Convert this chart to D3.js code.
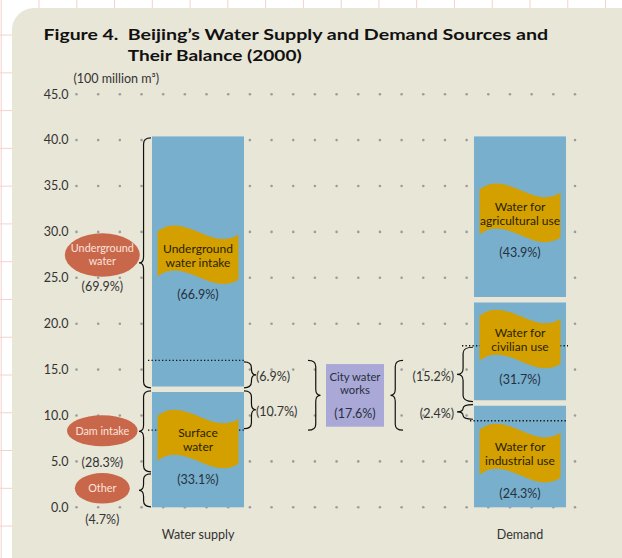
<!DOCTYPE html>
<html><head><meta charset="utf-8">
<script src="https://cdn.jsdelivr.net/npm/d3@7"></script>
<style>
html,body{margin:0;padding:0;background:#fff;}
svg{display:block;}
text{font-family:Lato,"Open Sans",sans-serif;}
</style></head>
<body>
<svg id="chart" width="622" height="558"></svg>
<script>
// ---------- data ----------
const categories = ["Water supply", "City water works", "Demand"];
const yTicks = [0, 5, 10, 15, 20, 25, 30, 35, 40, 45];
const unitLabel = "(100 million m³)";

// supply bar segments (bottom to top), 100 million m3
const supplyNames = [["Surface", "water"], ["Underground", "water intake"]];
const supplyValues = [12.85, 27.55];
const supplyPct = ["(33.1%)", "(66.9%)"];

// demand bar segments (bottom to top)
const demandNames = [["Water for", "industrial use"], ["Water for", "civilian use"], ["Water for", "agricultural use"]];
const demandValues = [11.35, 11.25, 17.8];
const demandPct = ["(24.3%)", "(31.7%)", "(43.9%)"];

// sources braces (bottom to top)
const sourceNames = [["Other"], ["Dam intake"], ["Underground", "water"]];
const sourceValues = [3.7, 9.15, 27.55];
const sourcePct = ["(4.7%)", "(28.3%)", "(69.9%)"];

// city water works transfers [low, high]
const toWorksRanges = [[12.85, 16.0], [8.4, 12.85]];
const toWorksPct = ["(6.9%)", "(10.7%)"];
const fromWorksRanges = [[11.35, 17.6], [9.43, 11.35]];
const fromWorksPct = ["(15.2%)", "(2.4%)"];
const worksPct = "(17.6%)";

// ---------- layout ----------
const W = 622, H = 558;
const svg = d3.select("#chart");
const y = d3.scaleLinear().domain([0, 45]).range([507.3, 94.2]);
const x = d3.scaleBand().domain(categories).range([152, 566]).paddingInner(0.4286).paddingOuter(0);
const bw = x.bandwidth();
const gridCols = d3.range(24);
const gx = d3.scaleLinear().domain([0, 23]).range([76.5, 575]);

const colors = {panel: "#E8E6D7", bar: "#78AFCC", flag: "#D4A000", oval: "#C9674B",
  ovalText: "#FBE3DA", works: "#AAA8D6", text: "#333333", pct: "#26303F", flagText: "#2A2200"};

// graph paper background
const bg = svg.append("g");
bg.append("rect").attr("width", W).attr("height", H).attr("fill", "#fff");
d3.range(-1, 17).forEach(k => {
  bg.append("line").attr("x1", 39 + 37.77 * k).attr("x2", 39 + 37.77 * k).attr("y1", 0).attr("y2", H)
    .attr("stroke", "#F3D2CB").attr("stroke-width", 1);
  bg.append("line").attr("y1", 488.3 - 37.77 * k).attr("y2", 488.3 - 37.77 * k).attr("x1", 0).attr("x2", W)
    .attr("stroke", "#F3D2CB").attr("stroke-width", 1);
});
svg.append("rect").attr("x", 12).attr("y", 8).attr("width", 630).attr("height", 572)
  .attr("rx", 22).attr("fill", colors.panel);

// title
svg.append("text").attr("x", 43.5).attr("y", 39.5).attr("font-size", 15.5).attr("font-weight", 700).attr("fill", "#111")
  .attr("textLength", 75).attr("lengthAdjust", "spacingAndGlyphs").text("Figure 4.");
svg.append("text").attr("x", 127.7).attr("y", 39.5).attr("font-size", 15.5).attr("font-weight", 700).attr("fill", "#111")
  .attr("textLength", 420.5).attr("lengthAdjust", "spacingAndGlyphs")
  .text("Beijing’s Water Supply and Demand Sources and");
svg.append("text").attr("x", 127.7).attr("y", 61).attr("font-size", 15.5).attr("font-weight", 700).attr("fill", "#111")
  .attr("textLength", 174).attr("lengthAdjust", "spacingAndGlyphs")
  .text("Their Balance (2000)");

// unit label
svg.append("text").attr("x", 73.5).attr("y", 83).attr("font-size", 12.5).attr("fill", colors.text).text(unitLabel);

// dotted grid
const dots = svg.append("g");
yTicks.forEach(v => gridCols.forEach(c => {
  dots.append("circle").attr("cx", gx(c)).attr("cy", y(v)).attr("r", 1.3).attr("fill", "#9C9C9C");
}));
// tick labels
svg.append("g").selectAll("text").data(yTicks).join("text")
  .attr("x", 68.5).attr("y", d => y(d)).attr("dy", "0.35em").attr("text-anchor", "end")
  .attr("font-size", 12.5).attr("fill", colors.text).text(d => d.toFixed(1));

// helpers
function stackOf(values) {
  const ends = d3.cumsum(values);
  return values.map((v, i) => ({lo: ends[i] - v, hi: ends[i], i}));
}
function flagPath(cx, cy) {
  const fw = 81, fh = 45, a = 21, d = 3;
  const x0 = cx - fw / 2, y0 = cy - fh / 2 - 1.5;
  return `M${x0},${y0} C${x0 + fw / 3},${y0 - a} ${x0 + 2 * fw / 3},${y0 + a} ${x0 + fw},${y0 + d}` +
    ` L${x0 + fw},${y0 + d + fh} C${x0 + 2 * fw / 3},${y0 + a + fh} ${x0 + fw / 3},${y0 - a + fh} ${x0},${y0 + fh} Z`;
}
function bracePath(xBase, xTip, yTop, yBot) {
  const xm = xBase + (xTip - xBase) * 0.62;
  const yt = (yTop + yBot) / 2;
  const r = Math.min(6, (yBot - yTop) / 4);
  return `M${xBase},${yTop} Q${xm},${yTop} ${xm},${yTop + r} L${xm},${yt - r} Q${xm},${yt} ${xTip},${yt}` +
    ` Q${xm},${yt} ${xm},${yt + r} L${xm},${yBot - r} Q${xm},${yBot} ${xBase},${yBot}`;
}
function drawBrace(xBase, xTip, vLo, vHi, inset) {
  const ins = inset == null ? 1.5 : inset;
  svg.append("path").attr("d", bracePath(xBase, xTip, y(vHi) + ins, y(vLo) - ins))
    .attr("fill", "none").attr("stroke", "#111").attr("stroke-width", 1.2);
}
function dotted(x1, x2, v) {
  svg.append("line").attr("x1", x1).attr("x2", x2).attr("y1", y(v)).attr("y2", y(v))
    .attr("stroke", "#111").attr("stroke-width", 1.3).attr("stroke-dasharray", "1.3,2.2");
}
function lines(g, arr, cx, cy, size, color, gap) {
  const n = arr.length;
  arr.forEach((s, k) => {
    g.append("text").attr("x", cx).attr("y", cy + (k - (n - 1) / 2) * gap).attr("dy", "0.35em")
      .attr("text-anchor", "middle").attr("font-size", size).attr("fill", color).text(s);
  });
}

// bars (rectangles)
function drawBarRects(cat, values) {
  const segs = stackOf(values);
  const x0 = x(cat);
  segs.forEach(s => {
    svg.append("rect").attr("x", x0).attr("y", y(s.hi)).attr("width", bw).attr("height", y(s.lo) - y(s.hi)).attr("fill", colors.bar);
  });
  segs.slice(1).forEach(s => {
    svg.append("line").attr("x1", x0).attr("x2", x0 + bw).attr("y1", y(s.lo)).attr("y2", y(s.lo))
      .attr("stroke", colors.panel).attr("stroke-width", 5.5);
  });
}
// banners + labels
function drawBarLabels(cat, values, names, pcts, flagAt) {
  const segs = stackOf(values);
  const cx = x(cat) + bw / 2;
  segs.forEach(s => {
    const fy = y(flagAt[s.i]);
    svg.append("path").attr("d", flagPath(cx, fy)).attr("fill", colors.flag);
    lines(svg, names[s.i], cx, fy, 12, colors.flagText, 14);
    svg.append("text").attr("x", cx).attr("y", fy + 39.5).attr("dy", "0.35em").attr("text-anchor", "middle")
      .attr("font-size", 12.5).attr("fill", colors.pct).text(pcts[s.i]);
  });
  svg.append("text").attr("x", cx).attr("y", 534.5).attr("dy", "0.35em").attr("text-anchor", "middle")
    .attr("font-size", 12.5).attr("fill", colors.text).text(cat);
}
// label anchor positions (in axis units) for banner labels
const supplyFlagAt = [7.36, 27.43];
const demandFlagAt = [5.83, 18.26, 32.0];
drawBarRects("Water supply", supplyValues);
drawBarRects("Demand", demandValues);

const sx0 = x("Water supply"), sx1 = sx0 + bw;
const dx0 = x("Demand"), dx1 = dx0 + bw;

// dotted transfer lines (under the banners)
dotted(sx0 - 4, sx1, toWorksRanges[0][1]);
dotted(sx0 - 4, sx1, toWorksRanges[1][0]);
dotted(dx0 - 12, dx1 + 2, fromWorksRanges[0][1]);
dotted(dx0 - 4, dx1, fromWorksRanges[1][0]);

drawBarLabels("Water supply", supplyValues, supplyNames, supplyPct, supplyFlagAt);
drawBarLabels("Demand", demandValues, demandNames, demandPct, demandFlagAt);

// source braces + ovals
const srcSegs = stackOf(sourceValues);
const ovalAt = [2.07, 8.34, 27.48];
const ovalR = [[27.5, 15.3], [35.3, 15.5], [37.5, 21.7]];
srcSegs.forEach(s => {
  drawBrace(sx0 - 1, sx0 - 13, s.lo, s.hi, s.i === 0 ? 0.5 : 1.5);
  const cy = y(ovalAt[s.i]);
  svg.append("ellipse").attr("cx", 102.3).attr("cy", cy).attr("rx", ovalR[s.i][0]).attr("ry", ovalR[s.i][1]).attr("fill", colors.oval);
  lines(svg, sourceNames[s.i], 102.3, cy, 10.8, colors.ovalText, 13);
  svg.append("text").attr("x", 102.3).attr("y", cy + 31.5).attr("dy", "0.35em").attr("text-anchor", "middle")
    .attr("font-size", 12.5).attr("fill", colors.text).text(sourcePct[s.i]);
});

// braces to / from city water works
toWorksRanges.forEach((r, i) => {
  drawBrace(sx1, sx1 + 12, r[0], r[1]);
  svg.append("text").attr("x", sx1 + 12).attr("y", (y(r[0]) + y(r[1])) / 2 + 2).attr("dy", "0.35em")
    .attr("font-size", 12.5).attr("fill", colors.text).text(toWorksPct[i]);
});
fromWorksRanges.forEach((r, i) => {
  drawBrace(dx0 - 1, dx0 - 17, r[0], r[1]);
  svg.append("text").attr("x", dx0 - 20).attr("y", (y(r[0]) + y(r[1])) / 2 + 2).attr("dy", "0.35em")
    .attr("text-anchor", "end").attr("font-size", 12.5).attr("fill", colors.text).text(fromWorksPct[i]);
});

// city water works box
const wcx = x("City water works") + bw / 2 - 4;
const wLo = toWorksRanges[1][0], wHi = toWorksRanges[0][1];
drawBrace(wcx - 47, wcx - 34.5, wLo, wHi, 0);
drawBrace(wcx + 48, wcx + 35.5, wLo, wHi, 0);
svg.append("rect").attr("x", wcx - 29).attr("y", y(15.6)).attr("width", 58).attr("height", y(8.78) - y(15.6)).attr("fill", colors.works);
lines(svg, ["City water", "works"], wcx, y(13.45), 11.3, colors.pct, 13);
svg.append("text").attr("x", wcx).attr("y", y(10.15)).attr("dy", "0.35em").attr("text-anchor", "middle")
  .attr("font-size", 12.5).attr("fill", colors.pct).text(worksPct);
</script>
</body></html>
